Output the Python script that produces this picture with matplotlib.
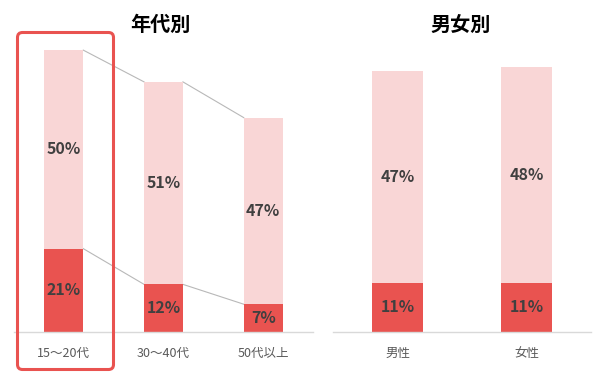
import matplotlib
matplotlib.use("Agg")
import matplotlib.pyplot as plt
from matplotlib.patches import FancyBboxPatch
from matplotlib.transforms import IdentityTransform
import numpy as np

plt.rcParams['font.family'] = ['Noto Sans CJK JP', 'DejaVu Sans']

# Data
age_categories = ["15〜20代", "30〜40代", "50代以上"]
age_dark = [21, 12, 7]
age_light = [50, 51, 47]

sex_categories = ["男性", "女性"]
sex_dark = [11, 11]
sex_light = [47, 48]

titles = ["年代別", "男女別"]

DARK = "#E95350"
LIGHT = "#F9D6D6"
TEXT = "#404040"
TICK = "#595959"
AXIS = "#D9D9D9"

fig = plt.figure(figsize=(6.05, 3.73), dpi=100)
W, H = 605, 373

def px_axes(x0, x1, y_base, height_px):
    return fig.add_axes([x0 / W, (H - y_base) / H, (x1 - x0) / W, height_px / H])

ax1 = px_axes(14, 313, 332, 80 * 3.97)
ax2 = px_axes(333, 591, 332, 70 * 4.5)

def draw(ax, cats, dark, light, width, ymax, connect):
    x = np.arange(len(cats))
    ax.bar(x, dark, width=width, color=DARK, zorder=2)
    ax.bar(x, light, width=width, bottom=dark, color=LIGHT, zorder=2)
    for xi, d, l in zip(x, dark, light):
        ax.text(xi, d / 2, f"{d}%", ha="center", va="center", fontsize=11.5,
                fontweight="bold", color=TEXT, zorder=3)
        ax.text(xi, d + l / 2, f"{l}%", ha="center", va="center", fontsize=11.5,
                fontweight="bold", color=TEXT, zorder=3)
    if connect:
        tops = [d + l for d, l in zip(dark, light)]
        for i in range(len(cats) - 1):
            ax.plot([x[i] + width / 2, x[i + 1] - width / 2], [dark[i], dark[i + 1]],
                    color="#B8B8B8", lw=0.8, zorder=1)
            ax.plot([x[i] + width / 2, x[i + 1] - width / 2], [tops[i], tops[i + 1]],
                    color="#B8B8B8", lw=0.8, zorder=1)
    ax.set_xlim(-0.5, len(cats) - 0.5)
    ax.set_ylim(0, ymax)
    ax.set_xticks(x)
    ax.set_xticklabels(cats, fontsize=9, color=TICK)
    ax.tick_params(axis="x", length=0, pad=11)
    ax.set_yticks([])
    for s in ["top", "left", "right"]:
        ax.spines[s].set_visible(False)
    ax.spines["bottom"].set_color(AXIS)
    ax.spines["bottom"].set_linewidth(1.0)

draw(ax1, age_categories, age_dark, age_light, 0.39, 80, True)
draw(ax2, sex_categories, sex_dark, sex_light, 0.40, 70, False)

fig.text(160 / W, 1 - 24 / H, titles[0], ha="center", va="center",
         fontsize=14.5, fontweight="bold", color="#000000")
fig.text(461 / W, 1 - 24 / H, titles[1], ha="center", va="center",
         fontsize=14.5, fontweight="bold", color="#000000")

# highlight box around first age group
box = FancyBboxPatch((17.5, H - 369.5), 96, 337,
                     boxstyle="round,pad=0,rounding_size=5",
                     transform=IdentityTransform(), fill=False,
                     edgecolor=DARK, linewidth=2.2, zorder=10)
fig.add_artist(box)

fig.savefig("out.png", dpi=100)
